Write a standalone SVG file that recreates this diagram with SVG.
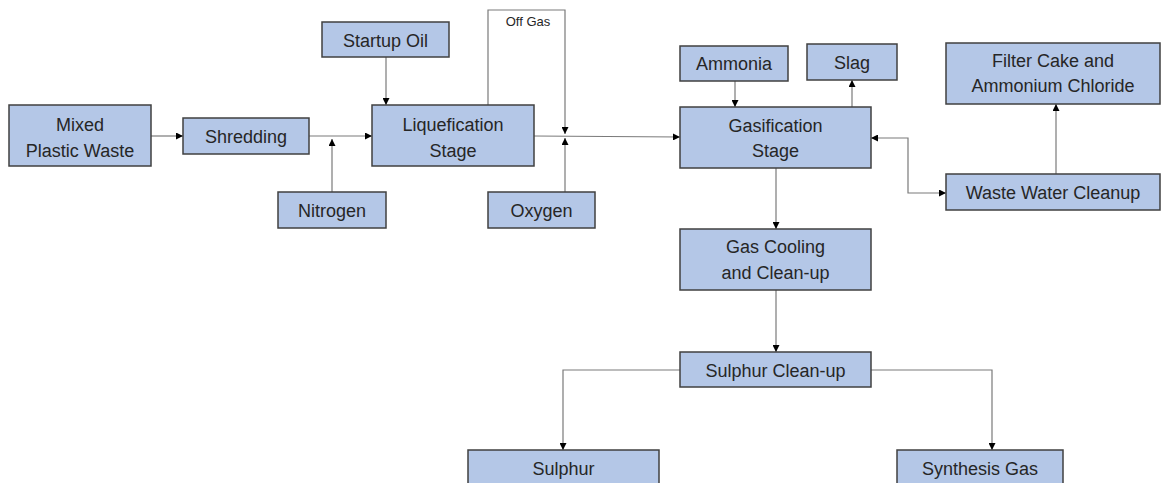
<svg xmlns="http://www.w3.org/2000/svg" width="1162" height="483" viewBox="0 0 1162 483">
<style>
.box{fill:#B4C7E7;stroke:#404040;stroke-width:1.5}
.t{font-family:"Liberation Sans",Arial,sans-serif;font-size:18px;fill:#262626;text-anchor:middle}
.s{font-family:"Liberation Sans",Arial,sans-serif;font-size:13px;fill:#262626;text-anchor:middle}
.c{fill:none;stroke:#7a7a7a;stroke-width:1.2}
</style>
<defs>
<marker id="ah" viewBox="0 0 8 8" refX="8" refY="4" markerWidth="7" markerHeight="7" markerUnits="userSpaceOnUse" orient="auto-start-reverse">
<path d="M0,0 L8,4 L0,8 z" fill="#000"/>
</marker>
</defs>
<rect width="1162" height="483" fill="#fff"/>
<g id="connectors">
<path class="c" d="M151,136 H183" marker-end="url(#ah)"/>
<path class="c" d="M309,136 H372" marker-end="url(#ah)"/>
<path class="c" d="M332,192 V139" marker-end="url(#ah)"/>
<path class="c" d="M386,57 V105" marker-end="url(#ah)"/>
<path class="c" d="M488,105 V10 H565 V134" marker-end="url(#ah)"/>
<path class="c" d="M534,136 L680,137" marker-end="url(#ah)"/>
<path class="c" d="M565,192 V138" marker-end="url(#ah)"/>
<path class="c" d="M735,81 V107" marker-end="url(#ah)"/>
<path class="c" d="M852,107 V80" marker-end="url(#ah)"/>
<path class="c" d="M871,138 H908 V193 H946" marker-start="url(#ah)" marker-end="url(#ah)"/>
<path class="c" d="M1056,174 V104" marker-end="url(#ah)"/>
<path class="c" d="M776,168 V229" marker-end="url(#ah)"/>
<path class="c" d="M776,290 V352" marker-end="url(#ah)"/>
<path class="c" d="M680,370 H563 V450" marker-end="url(#ah)"/>
<path class="c" d="M871,370 H992 V450" marker-end="url(#ah)"/>
<text class="s" x="528" y="26">Off Gas</text>
</g>
<g id="mixed"><rect class="box" x="9" y="105" width="142" height="61"/><text class="t" x="80" y="131">Mixed</text><text class="t" x="80" y="157">Plastic Waste</text></g>
<g id="shredding"><rect class="box" x="183" y="118" width="126" height="36"/><text class="t" x="246" y="143">Shredding</text></g>
<g id="startup"><rect class="box" x="322" y="22" width="127" height="35"/><text class="t" x="385.5" y="47">Startup Oil</text></g>
<g id="nitrogen"><rect class="box" x="278" y="192" width="108" height="36"/><text class="t" x="332" y="217">Nitrogen</text></g>
<g id="liquefication"><rect class="box" x="372" y="105" width="162" height="61"/><text class="t" x="453" y="131">Liquefication</text><text class="t" x="453" y="157">Stage</text></g>
<g id="oxygen"><rect class="box" x="488" y="192" width="107" height="36"/><text class="t" x="541.5" y="217">Oxygen</text></g>
<g id="gasification"><rect class="box" x="680" y="107" width="191" height="61"/><text class="t" x="775.5" y="132">Gasification</text><text class="t" x="775.5" y="157">Stage</text></g>
<g id="ammonia"><rect class="box" x="680" y="46" width="108" height="35"/><text class="t" x="734" y="70">Ammonia</text></g>
<g id="slag"><rect class="box" x="807" y="44" width="90" height="36"/><text class="t" x="852" y="69">Slag</text></g>
<g id="filtercake"><rect class="box" x="946" y="43" width="214" height="61"/><text class="t" x="1053" y="67">Filter Cake and</text><text class="t" x="1053" y="92">Ammonium Chloride</text></g>
<g id="wastewater"><rect class="box" x="946" y="174" width="214" height="36"/><text class="t" x="1053" y="199">Waste Water Cleanup</text></g>
<g id="gascooling"><rect class="box" x="680" y="229" width="191" height="61"/><text class="t" x="775.5" y="253">Gas Cooling</text><text class="t" x="775.5" y="279">and Clean-up</text></g>
<g id="sulphurcleanup"><rect class="box" x="680" y="352" width="191" height="35"/><text class="t" x="775.5" y="377">Sulphur Clean-up</text></g>
<g id="sulphur"><rect class="box" x="468" y="450" width="191" height="40"/><text class="t" x="563.5" y="475">Sulphur</text></g>
<g id="syngas"><rect class="box" x="897" y="450" width="166" height="40"/><text class="t" x="980" y="475">Synthesis Gas</text></g>
</svg>
